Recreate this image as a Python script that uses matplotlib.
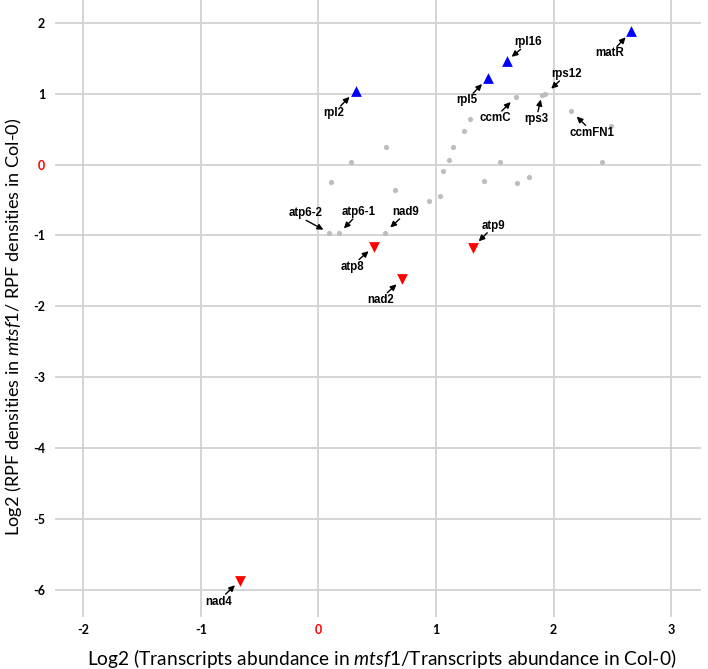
import matplotlib
matplotlib.use('Agg')
import matplotlib.pyplot as plt

# ---------------- data ----------------
gray_names = ['ccmC', 'rps3', 'rps12', 'ccmFN1', '', '', '', '', '', '', '', '', '',
              '', '', '', '', '', '', '', '', 'atp6-2', 'atp6-1', 'nad9']
gray_x = [1.68, 1.90, 1.93, 2.15, 2.49, 2.41, 1.29, 1.24, 1.145, 1.11, 1.06, 1.03, 0.94,
          0.574, 0.276, 0.11, 0.653, 1.545, 1.41, 1.69, 1.79, 0.088, 0.176, 0.5625]
gray_y = [0.956, 0.985, 0.994, 0.75, 0.54, 0.03, 0.64, 0.47, 0.245, 0.07, -0.085, -0.44, -0.52,
          0.25, 0.04, -0.245, -0.36, 0.03, -0.235, -0.26, -0.175, -0.96, -0.97, -0.96]

up_names = ['rpl2', 'rpl5', 'rpl16', 'matR']
up_x = [0.315, 1.44, 1.60, 2.66]
up_y = [1.04, 1.22, 1.46, 1.88]

down_names = ['atp8', 'atp9', 'nad2', 'nad4']
down_x = [0.47, 1.31, 0.71, -0.67]
down_y = [-1.16, -1.17, -1.62, -5.87]

x_ticks = [-2, -1, 0, 1, 2, 3]
y_ticks = [2, 1, 0, -1, -2, -3, -4, -5, -6]

# label layout: text offset (px), arrow start offset (px), gap to point (px)
layout = {
    'rpl2':   (-21.7, -22.7, -15.0, -15.3, 8.5),
    'rpl5':   (-21.3, -22.0, -14.7, -15.3, 8.3),
    'rpl16':  (21.3, 18.7, 14.0, 11.7, 6.5),
    'matR':   (-21.7, -22.0, -14.3, -15.3, 8.3),
    'rps12':  (21.3, 20.0, 14.0, 13.0, 7.8),
    'ccmC':   (-21.0, -21.0, -14.3, -14.3, 7.5),
    'rps3':   (-5.7, -24.3, -4.0, -17.0, 5.0),
    'ccmFN1': (20.7, -21.3, 14.3, -14.0, 7.5),
    'atp6-2': (-23.3, 19.3, -22.7, 12.3, 6.1),
    'atp6-1': (19.3, 21.0, 13.7, 14.3, 6.8),
    'nad9':   (21.0, 20.3, 15.0, 13.7, 7.6),
    'atp9':   (21.3, 21.3, 14.7, 14.7, 8.7),
    'atp8':   (-21.0, -20.0, -14.7, -12.7, 6.7),
    'nad2':   (-21.7, -20.3, -14.7, -13.3, 7.3),
    'nad4':   (-20.7, -21.0, -14.0, -13.3, 6.4),
}

plt.rcParams['mathtext.fontset'] = 'custom'
plt.rcParams['mathtext.rm'] = 'Lato'
plt.rcParams['mathtext.it'] = 'Lato:italic'

fig = plt.figure(figsize=(7.08, 6.69), dpi=100)
ax = fig.add_axes([55 / 708, 1 - 617 / 669, (700.7 - 55) / 708, 617 / 669])
ax.set_xlim(-2.24, 3.25)
ax.set_ylim(-6.38, 2.32)

ax.set_axisbelow(True)
ax.grid(True, color='#d4d4d4', lw=1.4)
for s in ax.spines.values():
    s.set_visible(False)

ax.scatter(gray_x, gray_y, s=14, color='#bdbdbd', zorder=3, linewidths=0)
ax.scatter(up_x, up_y, marker='^', s=60, color='#0000ff', zorder=4, linewidths=0)
ax.scatter(down_x, down_y, marker='v', s=60, color='#ff0000', zorder=4, linewidths=0)

points = {}
for n, x, y in zip(gray_names, gray_x, gray_y):
    if n:
        points[n] = (x, y)
for n, x, y in zip(up_names, up_x, up_y):
    points[n] = (x, y)
for n, x, y in zip(down_names, down_x, down_y):
    points[n] = (x, y)

for n, (x, y) in points.items():
    tx, ty, sx, sy, gap = layout[n]
    ax.annotate('', xy=(x, y), xytext=(sx, sy), textcoords='offset pixels',
                arrowprops=dict(arrowstyle='-|>,head_length=0.35,head_width=0.17',
                                color='black', lw=1.0, shrinkA=0, shrinkB=gap * 0.72),
                zorder=5)
    ax.annotate(n, xy=(x, y), xytext=(tx, ty), textcoords='offset pixels',
                ha='center', va='center', fontsize=8.3, fontweight='bold',
                family='Liberation Sans', color='black', zorder=6)

ax.set_xticks(x_ticks)
ax.set_xticklabels([str(t) for t in x_ticks])
ax.set_yticks(y_ticks)
ax.set_yticklabels([str(t) for t in y_ticks])
ax.tick_params(length=0, pad=5)
for lab in ax.get_xticklabels() + ax.get_yticklabels():
    lab.set_fontfamily('Lato')
    lab.set_fontweight('bold')
    lab.set_fontsize(9)
    if lab.get_text() == '0':
        lab.set_color('#ff0000')
ax.tick_params(axis='y', pad=7)

fig.text(381.5 / 708, 1 - 665 / 669,
         r'Log2 (Transcripts abundance in $\mathit{mtsf1}$/Transcripts abundance in Col-0)',
         ha='center', va='baseline', fontsize=13.8, family='Lato')
fig.text(14 / 708, 1 - 327 / 669,
         r'Log2 (RPF densities in $\mathit{mtsf1}$/ RPF densities in Col-0)',
         ha='center', va='center', rotation=90, fontsize=13.1, family='Lato')

fig.savefig('out.png', dpi=100)
